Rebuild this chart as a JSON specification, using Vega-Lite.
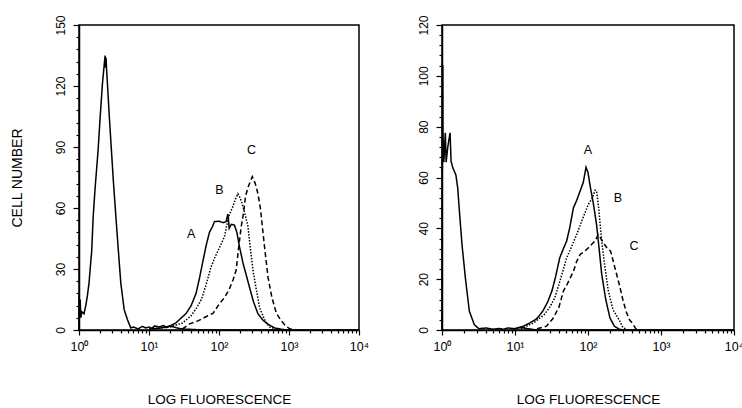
{
  "$schema": "https://vega.github.io/schema/vega-lite/v6.json",
  "background": "white",
  "padding": {"left": 9, "top": 14, "right": 0, "bottom": 0},
  "config": {
    "font": "Liberation Sans",
    "view": {"stroke": "black", "strokeWidth": 1.5},
    "axis": {"grid": false, "domainColor": "black", "domainWidth": 1.5, "tickColor": "black", "tickWidth": 1.2, "labelColor": "black", "titleColor": "black", "labelFontSize": 12, "titleFontSize": 13.5, "titleFontWeight": "normal", "labelOverlap": false, "labelBound": false, "labelFlush": false}
  },
  "datasets": {
    "neut": [
      {"s":"ctrl","x":1,"y":0},{"s":"ctrl","x":1.005,"y":17},{"s":"ctrl","x":1.02,"y":8},{"s":"ctrl","x":1.04,"y":15},{"s":"ctrl","x":1.06,"y":6},{"s":"ctrl","x":1.1,"y":9},{"s":"ctrl","x":1.18,"y":8},{"s":"ctrl","x":1.25,"y":12},{"s":"ctrl","x":1.32,"y":17},{"s":"ctrl","x":1.39,"y":23},{"s":"ctrl","x":1.46,"y":32},{"s":"ctrl","x":1.52,"y":39},{"s":"ctrl","x":1.59,"y":55},{"s":"ctrl","x":1.7,"y":70},{"s":"ctrl","x":1.87,"y":88},{"s":"ctrl","x":2.0,"y":104},{"s":"ctrl","x":2.16,"y":121},{"s":"ctrl","x":2.3,"y":131},{"s":"ctrl","x":2.36,"y":135},{"s":"ctrl","x":2.4,"y":129},{"s":"ctrl","x":2.43,"y":134},{"s":"ctrl","x":2.48,"y":128},{"s":"ctrl","x":2.55,"y":121},{"s":"ctrl","x":2.72,"y":104},{"s":"ctrl","x":2.91,"y":88},{"s":"ctrl","x":3.1,"y":73},{"s":"ctrl","x":3.36,"y":56},{"s":"ctrl","x":3.65,"y":39},{"s":"ctrl","x":3.96,"y":23},{"s":"ctrl","x":4.42,"y":10},{"s":"ctrl","x":4.93,"y":5},{"s":"ctrl","x":5.5,"y":1},{"s":"ctrl","x":6,"y":1.5},{"s":"ctrl","x":7,"y":0.5},{"s":"ctrl","x":8,"y":1.8},{"s":"ctrl","x":9,"y":1},{"s":"ctrl","x":10,"y":1.5},{"s":"ctrl","x":11,"y":0.8},{"s":"ctrl","x":12,"y":2},{"s":"ctrl","x":14,"y":1.5},{"s":"ctrl","x":16,"y":2.2},{"s":"ctrl","x":18,"y":1.2},{"s":"ctrl","x":20,"y":2},{"s":"ctrl","x":25,"y":1},{"s":"ctrl","x":30,"y":0.5},{"s":"ctrl","x":60,"y":0},{"s":"ctrl","x":10000,"y":0},
      {"s":"A","x":10,"y":0.5},{"s":"A","x":15,"y":1},{"s":"A","x":20,"y":2},{"s":"A","x":24,"y":3.4},{"s":"A","x":28,"y":5.5},{"s":"A","x":34,"y":8.2},{"s":"A","x":40,"y":12},{"s":"A","x":47,"y":18},{"s":"A","x":53,"y":26},{"s":"A","x":59,"y":34},{"s":"A","x":66,"y":42},{"s":"A","x":73,"y":48},{"s":"A","x":81,"y":51},{"s":"A","x":86,"y":53.3},{"s":"A","x":100,"y":53.5},{"s":"A","x":115,"y":52.8},{"s":"A","x":126,"y":53.3},{"s":"A","x":134,"y":57},{"s":"A","x":140,"y":50},{"s":"A","x":150,"y":52},{"s":"A","x":166,"y":51.6},{"s":"A","x":180,"y":48},{"s":"A","x":196,"y":41},{"s":"A","x":220,"y":33},{"s":"A","x":245,"y":27},{"s":"A","x":273,"y":21},{"s":"A","x":310,"y":14},{"s":"A","x":360,"y":8},{"s":"A","x":420,"y":5},{"s":"A","x":475,"y":3.4},{"s":"A","x":550,"y":2},{"s":"A","x":630,"y":1},{"s":"A","x":800,"y":0.3},{"s":"A","x":1000,"y":0},
      {"s":"B","x":10,"y":0.3},{"s":"B","x":20,"y":1.5},{"s":"B","x":30,"y":3.4},{"s":"B","x":40,"y":7},{"s":"B","x":48,"y":11},{"s":"B","x":56,"y":15},{"s":"B","x":65,"y":22},{"s":"B","x":77,"y":31},{"s":"B","x":88,"y":36},{"s":"B","x":100,"y":40},{"s":"B","x":120,"y":46},{"s":"B","x":130,"y":52},{"s":"B","x":141,"y":57},{"s":"B","x":155,"y":60},{"s":"B","x":170,"y":64},{"s":"B","x":186,"y":67},{"s":"B","x":200,"y":65},{"s":"B","x":215,"y":62},{"s":"B","x":235,"y":57},{"s":"B","x":259,"y":51},{"s":"B","x":285,"y":38},{"s":"B","x":310,"y":28},{"s":"B","x":341,"y":20},{"s":"B","x":380,"y":11},{"s":"B","x":449,"y":5},{"s":"B","x":525,"y":1.5},{"s":"B","x":650,"y":0.5},{"s":"B","x":800,"y":0},
      {"s":"C","x":30,"y":0.5},{"s":"C","x":38,"y":3},{"s":"C","x":50,"y":4.5},{"s":"C","x":65,"y":6.5},{"s":"C","x":82,"y":8.2},{"s":"C","x":102,"y":13},{"s":"C","x":120,"y":16},{"s":"C","x":140,"y":20},{"s":"C","x":160,"y":25},{"s":"C","x":176,"y":29.5},{"s":"C","x":190,"y":40},{"s":"C","x":208,"y":51},{"s":"C","x":225,"y":58},{"s":"C","x":240,"y":66},{"s":"C","x":265,"y":71},{"s":"C","x":299,"y":75.4},{"s":"C","x":330,"y":72},{"s":"C","x":360,"y":67},{"s":"C","x":390,"y":60},{"s":"C","x":416,"y":51},{"s":"C","x":450,"y":40},{"s":"C","x":501,"y":26},{"s":"C","x":570,"y":16},{"s":"C","x":660,"y":8.2},{"s":"C","x":760,"y":5},{"s":"C","x":870,"y":2.5},{"s":"C","x":1000,"y":0.8},{"s":"C","x":1200,"y":0}
    ],
    "mono": [
      {"s":"ctrl","x":1,"y":0},{"s":"ctrl","x":1.015,"y":104},{"s":"ctrl","x":1.025,"y":104},{"s":"ctrl","x":1.03,"y":78},{"s":"ctrl","x":1.06,"y":66},{"s":"ctrl","x":1.11,"y":77.6},{"s":"ctrl","x":1.14,"y":66},{"s":"ctrl","x":1.2,"y":72},{"s":"ctrl","x":1.29,"y":77.6},{"s":"ctrl","x":1.33,"y":66.5},{"s":"ctrl","x":1.4,"y":64},{"s":"ctrl","x":1.55,"y":61},{"s":"ctrl","x":1.64,"y":56},{"s":"ctrl","x":1.75,"y":45},{"s":"ctrl","x":1.88,"y":33.6},{"s":"ctrl","x":2.09,"y":20.5},{"s":"ctrl","x":2.37,"y":7.4},{"s":"ctrl","x":2.77,"y":2.1},{"s":"ctrl","x":3.2,"y":0.5},{"s":"ctrl","x":4,"y":0.8},{"s":"ctrl","x":5,"y":0.3},{"s":"ctrl","x":6,"y":0.6},{"s":"ctrl","x":7,"y":0.3},{"s":"ctrl","x":8,"y":0.8},{"s":"ctrl","x":10,"y":0.5},{"s":"ctrl","x":12,"y":1},{"s":"ctrl","x":15,"y":0.5},{"s":"ctrl","x":20,"y":0},{"s":"ctrl","x":10000,"y":0},
      {"s":"A","x":10,"y":0.5},{"s":"A","x":13,"y":1.5},{"s":"A","x":16,"y":2.8},{"s":"A","x":20,"y":4.5},{"s":"A","x":24,"y":7.4},{"s":"A","x":28,"y":11},{"s":"A","x":32,"y":15.3},{"s":"A","x":36,"y":21},{"s":"A","x":41,"y":28.4},{"s":"A","x":46,"y":32},{"s":"A","x":51,"y":35},{"s":"A","x":56,"y":40},{"s":"A","x":63,"y":48},{"s":"A","x":70,"y":51},{"s":"A","x":78,"y":54.7},{"s":"A","x":86,"y":58},{"s":"A","x":94,"y":64},{"s":"A","x":100,"y":62},{"s":"A","x":106,"y":57.3},{"s":"A","x":118,"y":50},{"s":"A","x":131,"y":41.5},{"s":"A","x":142,"y":32},{"s":"A","x":154,"y":22},{"s":"A","x":175,"y":12},{"s":"A","x":200,"y":4.7},{"s":"A","x":230,"y":1.5},{"s":"A","x":260,"y":0.5},{"s":"A","x":300,"y":0},
      {"s":"B","x":12,"y":0.5},{"s":"B","x":18,"y":2.8},{"s":"B","x":25,"y":6},{"s":"B","x":30,"y":9},{"s":"B","x":35,"y":12.6},{"s":"B","x":42,"y":20},{"s":"B","x":51,"y":28.4},{"s":"B","x":60,"y":33},{"s":"B","x":70,"y":37.6},{"s":"B","x":85,"y":44},{"s":"B","x":101,"y":49.4},{"s":"B","x":115,"y":52},{"s":"B","x":125,"y":55},{"s":"B","x":131,"y":54.7},{"s":"B","x":140,"y":48},{"s":"B","x":154,"y":35},{"s":"B","x":170,"y":25},{"s":"B","x":190,"y":15.3},{"s":"B","x":220,"y":8},{"s":"B","x":274,"y":3.4},{"s":"B","x":300,"y":1},{"s":"B","x":350,"y":0},
      {"s":"C","x":20,"y":0.5},{"s":"C","x":27,"y":1.5},{"s":"C","x":33.5,"y":4.7},{"s":"C","x":40,"y":9},{"s":"C","x":46,"y":15.3},{"s":"C","x":54,"y":19},{"s":"C","x":63,"y":23},{"s":"C","x":70,"y":27},{"s":"C","x":78,"y":29.7},{"s":"C","x":90,"y":31},{"s":"C","x":101,"y":32.3},{"s":"C","x":115,"y":34},{"s":"C","x":125,"y":35},{"s":"C","x":138,"y":37.5},{"s":"C","x":150,"y":36},{"s":"C","x":165,"y":34},{"s":"C","x":185,"y":32},{"s":"C","x":204,"y":31},{"s":"C","x":234,"y":24.4},{"s":"C","x":268,"y":18},{"s":"C","x":300,"y":12},{"s":"C","x":331,"y":7.5},{"s":"C","x":370,"y":4},{"s":"C","x":410,"y":2.5},{"s":"C","x":450,"y":0.5},{"s":"C","x":500,"y":0}
    ],
    "neutLab": [{"t":"A","x":40,"y":47},{"t":"B","x":101,"y":69},{"t":"C","x":292,"y":88.5}],
    "monoLab": [{"t":"A","x":100,"y":71},{"t":"B","x":257,"y":52},{"t":"C","x":427,"y":33}]
  },
  "spacing": 83,
  "bounds": "flush",
  "hconcat": [
    {
      "width": 280,
      "height": 305,
      "resolve": {"axis": {"x": "independent", "y": "independent"}},
      "layer": [
        {
          "data": {"name": "neut"},
          "mark": {"type": "line", "color": "black", "strokeWidth": 1.5},
          "encoding": {
            "x": {"field": "x", "type": "quantitative", "scale": {"type": "log", "domain": [1, 10000], "nice": false},
              "axis": {"orient": "bottom", "values": [1, 10, 100, 1000, 10000],
                "labelExpr": "datum.value == 1 ? '10⁰' : datum.value == 10 ? '10¹' : datum.value == 100 ? '10²' : datum.value == 1000 ? '10³' : '10⁴'",
                "tickSize": 5, "labelFontSize": 12.5, "labelColor": "black", "labelPadding": 5, "title": "LOG FLUORESCENCE", "titlePadding": 40}},
            "y": {"field": "y", "type": "quantitative", "scale": {"domain": [0, 150], "nice": false},
              "axis": {"orient": "left", "values": [0, 30, 60, 90, 120, 150], "tickSize": 6, "labelColor": "black",
                "labelAngle": 270, "labelPadding": 6, "title": "CELL NUMBER", "titleFontSize": 14, "titlePadding": 30}},
            "detail": {"field": "s"},
            "strokeDash": {"field": "s", "type": "nominal", "scale": {"domain": ["ctrl","A","B","C"], "range": [[1,0],[1,0],[1.5,1.5],[5,3]]}, "legend": null}
          }
        },
        {
          "data": {"name": "neutLab"},
          "mark": {"type": "text", "fontSize": 12.5, "color": "black"},
          "encoding": {
            "x": {"field": "x", "type": "quantitative",
              "axis": {"orient": "bottom", "values": [2,3,4,5,6,7,8,9,20,30,40,50,60,70,80,90,200,300,400,500,600,700,800,900,2000,3000,4000,5000,6000,7000,8000,9000], "labels": false, "domain": false, "tickSize": 3, "title": null}},
            "y": {"field": "y", "type": "quantitative",
              "axis": {"orient": "left", "values": [6,12,18,24,36,42,48,54,66,72,78,84,96,102,108,114,126,132,138,144], "labels": false, "domain": false, "tickSize": 3, "title": null}},
            "text": {"field": "t"}
          }
        },
        {
          "mark": {"type": "text", "fontSize": 16, "color": "black", "text": "NEUTROPHILS"},
          "encoding": {"x": {"datum": 585, "axis": null}, "y": {"datum": 131.8, "axis": null}}
        }
      ]
    },
    {
      "width": 292,
      "height": 305,
      "resolve": {"axis": {"x": "independent", "y": "independent"}},
      "layer": [
        {
          "data": {"name": "mono"},
          "mark": {"type": "line", "color": "black", "strokeWidth": 1.5},
          "encoding": {
            "x": {"field": "x", "type": "quantitative", "scale": {"type": "log", "domain": [1, 10000], "nice": false},
              "axis": {"orient": "bottom", "values": [1, 10, 100, 1000, 10000],
                "labelExpr": "datum.value == 1 ? '10⁰' : datum.value == 10 ? '10¹' : datum.value == 100 ? '10²' : datum.value == 1000 ? '10³' : '10⁴'",
                "tickSize": 5, "labelFontSize": 12.5, "labelColor": "black", "labelPadding": 5, "title": "LOG FLUORESCENCE", "titlePadding": 40}},
            "y": {"field": "y", "type": "quantitative", "scale": {"domain": [0, 120], "nice": false},
              "axis": {"orient": "left", "values": [0, 20, 40, 60, 80, 100, 120], "tickSize": 6, "labelColor": "black",
                "labelAngle": 270, "labelPadding": 6, "title": null}},
            "detail": {"field": "s"},
            "strokeDash": {"field": "s", "type": "nominal", "scale": {"domain": ["ctrl","A","B","C"], "range": [[1,0],[1,0],[1.5,1.5],[5,3]]}, "legend": null}
          }
        },
        {
          "data": {"name": "monoLab"},
          "mark": {"type": "text", "fontSize": 12.5, "color": "black"},
          "encoding": {
            "x": {"field": "x", "type": "quantitative",
              "axis": {"orient": "bottom", "values": [2,3,4,5,6,7,8,9,20,30,40,50,60,70,80,90,200,300,400,500,600,700,800,900,2000,3000,4000,5000,6000,7000,8000,9000], "labels": false, "domain": false, "tickSize": 3, "title": null}},
            "y": {"field": "y", "type": "quantitative",
              "axis": {"orient": "left", "values": [4,8,12,16,24,28,32,36,44,48,52,56,64,68,72,76,84,88,92,96,104,108,112,116], "labels": false, "domain": false, "tickSize": 3, "title": null}},
            "text": {"field": "t"}
          }
        },
        {
          "mark": {"type": "text", "fontSize": 16, "color": "black", "text": "MONOCYTES"},
          "encoding": {"x": {"datum": 802, "axis": null}, "y": {"datum": 105.2, "axis": null}}
        }
      ]
    }
  ]
}
